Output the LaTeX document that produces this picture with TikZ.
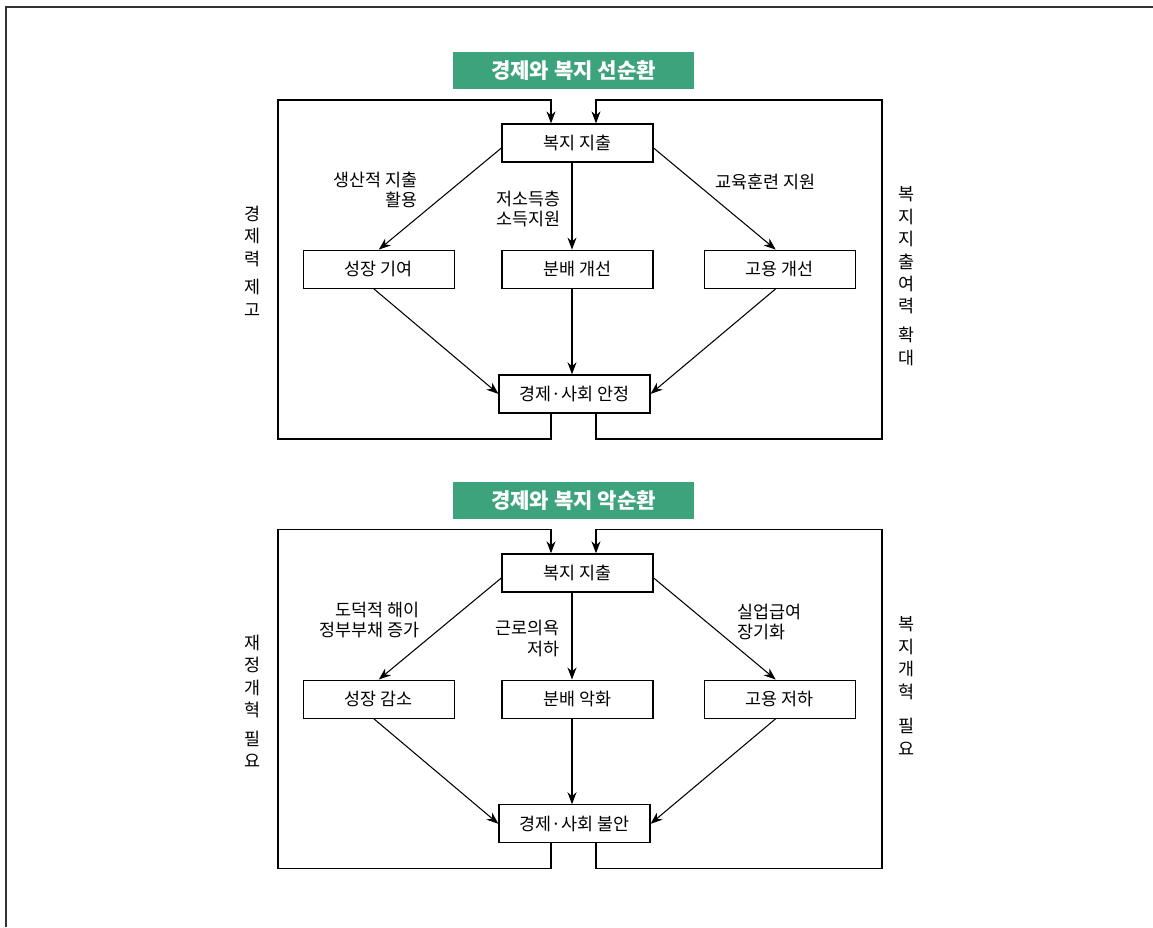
\documentclass[tikz,border=0pt]{standalone}
\usepackage{fontspec}
\setmainfont{Noto Sans CJK KR}
\usepackage{tikz}
\usetikzlibrary{
	positioning,
	arrows.meta
}
\definecolor{CycleGreen}{RGB}{60,163,125}

\begin{document}
\begin{tikzpicture}[
				x=0.02cm,
				y=-0.02cm,
				every node/.style={
					font=\fontsize{9.9}{11.5}\selectfont,
					inner sep=0pt
				},
				box/.style={
					draw,
					line width=0.7pt,
					minimum width=3.02cm,
					minimum height=0.76cm
				},
				titlebar/.style={
					fill=CycleGreen,
					text=white,
					minimum width=4.82cm,
					minimum height=0.74cm,
					font=\fontsize{12}{14}\selectfont\bfseries
				},
				flow/.style={
					-{Stealth[length=2.4mm,width=1.8mm]},
					line width=0.6pt
				},
				vtext/.style={
					align=center,
					font=\fontsize{9.9}{12.8}\selectfont
				}
				]
				
				\useasboundingbox (0,0) rectangle (1153,927);
				\draw[line width=1.1pt, black!80] (1153,7) -- (6,7) -- (6,927);
				
				% virtuous cycle
				\node[titlebar] (T1) at (573.5,70.5) {경제와 복지 선순환};
				
				\node[box] (W1) at (577.5,143) {복지 지출};
				\node[box, below=1.74cm of W1] (D1) {분배 개선};
				\node[box, left=0.93cm of D1] (G1) {성장 기여};
				\node[box, right=1.0cm of D1] (J1) {고용 개선};
				\node[box, below=1.71cm of D1, xshift=-0.06cm] (E1) {경제·사회 안정};
				
				\draw[flow] ([yshift=-0.1cm]W1.west) -- (G1.north);
				\draw[flow] ([xshift=-0.11cm]W1.south) -- ([xshift=-0.11cm]D1.north);
				\draw[flow] ([yshift=-0.1cm]W1.east) -- ([xshift=-0.08cm]J1.north);
				
				\draw[flow] ([xshift=-0.1cm]G1.south) -- (E1.west);
				\draw[flow] ([xshift=-0.11cm]D1.south) -- ([xshift=-0.11cm]D1.south |- E1.north);
				\draw[flow] ([xshift=-0.08cm]J1.south) -- (E1.east);
				
				\coordinate (L1) at (278,439);
				\coordinate (R1) at (882,439);
				\coordinate (TL1) at (278,100);
				\coordinate (TR1) at (882,100);
				\coordinate (gl1) at (551,0);
				\coordinate (gr1) at (596,0);
				
				\draw[flow] (E1.south -| gl1) |- (L1) -- (TL1) -| (W1.north -| gl1);
				\draw[flow] (E1.south -| gr1) |- (R1) -- (TR1) -| (W1.north -| gr1);
				
				\node[align=right, anchor=east] (n1) at (418,190) {생산적 지출\\활용};
				\node[align=left, anchor=west] (n2) at (496,209) {저소득층\\소득지원};
				\node[anchor=west] (n3) at (715,182) {교육훈련 지원};
				
				\node[vtext] (v1) at (252,261) {경\\제\\력\\[3.5pt]제\\고};
				\node[vtext] (v2) at (906,276) {복\\지\\지\\출\\여\\력\\[3.5pt]확\\대};
				
				% vicious cycle
				\begin{scope}[yshift=-8.6cm]
				\node[titlebar] (T2) at (573.5,70.5) {경제와 복지 악순환};
				
				\node[box] (W2) at (577.5,143) {복지 지출};
				\node[box, below=1.74cm of W2] (D2) {분배 악화};
				\node[box, left=0.93cm of D2] (G2) {성장 감소};
				\node[box, right=1.0cm of D2] (J2) {고용 저하};
				\node[box, below=1.71cm of D2, xshift=-0.06cm] (E2) {경제·사회 불안};
				
				\draw[flow] ([yshift=-0.1cm]W2.west) -- (G2.north);
				\draw[flow] ([xshift=-0.11cm]W2.south) -- ([xshift=-0.11cm]D2.north);
				\draw[flow] ([yshift=-0.1cm]W2.east) -- ([xshift=-0.08cm]J2.north);
				
				\draw[flow] ([xshift=-0.1cm]G2.south) -- (E2.west);
				\draw[flow] ([xshift=-0.11cm]D2.south) -- ([xshift=-0.11cm]D2.south |- E2.north);
				\draw[flow] ([xshift=-0.08cm]J2.south) -- (E2.east);
				
				\coordinate (L2) at (278,439);
				\coordinate (R2) at (882,439);
				\coordinate (TL2) at (278,100);
				\coordinate (TR2) at (882,100);
				\coordinate (gl2) at (551,0);
				\coordinate (gr2) at (596,0);
				
				\draw[flow] (E2.south -| gl2) |- (L2) -- (TL2) -| (W2.north -| gl2);
				\draw[flow] (E2.south -| gr2) |- (R2) -- (TR2) -| (W2.north -| gr2);
				
				\node[align=right, anchor=east] (m1) at (420,190) {도덕적 해이\\정부부채 증가};
				\node[align=right, anchor=east] (m2) at (560,208.5) {근로의욕\\저하};
				\node[align=left, anchor=west] (m3) at (737,192) {실업급여\\장기화};
				
				\node[vtext] (u1) at (252,271.5) {재\\정\\개\\혁\\[3.5pt]필\\요};
				\node[vtext] (u2) at (906,256) {복\\지\\개\\혁\\[7pt]필\\요};
				\end{scope}
				
			\end{tikzpicture}
\end{document}
